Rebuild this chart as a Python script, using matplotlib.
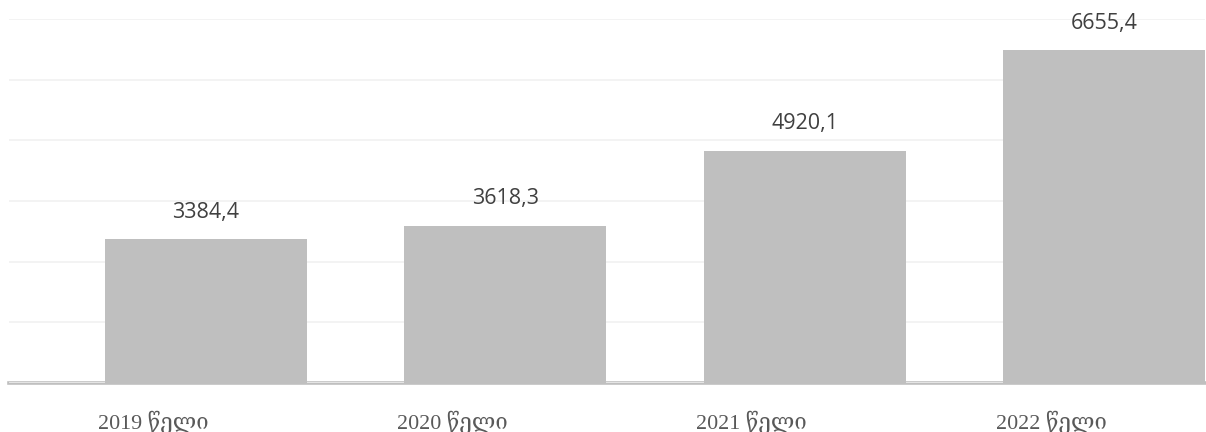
import matplotlib
matplotlib.use("Agg")
import matplotlib.pyplot as plt
from matplotlib.transforms import ScaledTranslation

# Annual totals
years = ["2019 წელი", "2020 წელი", "2021 წელი", "2022 წელი"]
values = [3384.4, 3618.3, 4920.1, 6655.4]
value_labels = ["3384,4", "3618,3", "4920,1", "6655,4"]

BAR_COLOR = "#bfbfbf"
GRID_COLOR = "#f0f0f0"

fig = plt.figure(figsize=(12.06, 4.32), dpi=100)
ax = fig.add_axes([9 / 1206, 49 / 432, 1196 / 1206, 364 / 432])

x = list(range(len(years)))
y_min, y_step, n_grid = 900, 1050, 6
y_max = y_min + y_step * n_grid

bars = ax.bar(x, [v - y_min for v in values], bottom=y_min, width=0.675,
              color=BAR_COLOR, zorder=2)

ax.set_ylim(y_min, y_max)
ax.set_xlim(-0.658, 3.3375)
ax.set_yticks([y_min + i * y_step for i in range(n_grid + 1)])
ax.yaxis.grid(True, color=GRID_COLOR, linewidth=1.1, zorder=0)
ax.tick_params(axis="y", left=False, labelleft=False)
ax.axhline(y_min, color=BAR_COLOR, linewidth=2.6, zorder=1, clip_on=False)

for spine in ax.spines.values():
    spine.set_visible(False)

# value labels above each bar
for rect, lab in zip(bars, value_labels):
    ax.annotate(lab, (rect.get_x() + rect.get_width() / 2, rect.get_y() + rect.get_height()),
                xytext=(0, 12), textcoords="offset points", ha="center", va="bottom",
                fontsize=15.5, color="#404040", family=["Open Sans", "DejaVu Sans"],
                annotation_clip=False)

ax.set_xticks(x)
ax.set_xticklabels(years, fontsize=15.8, color="#595959",
                   family=["Liberation Serif", "DejaVu Serif", "DejaVu Sans"])
ax.tick_params(axis="x", bottom=False, pad=16)
shift = ScaledTranslation(-53 / 100, 0, fig.dpi_scale_trans)
for t in ax.get_xticklabels():
    t.set_transform(t.get_transform() + shift)

fig.savefig("out.png", dpi=100, facecolor="white")
